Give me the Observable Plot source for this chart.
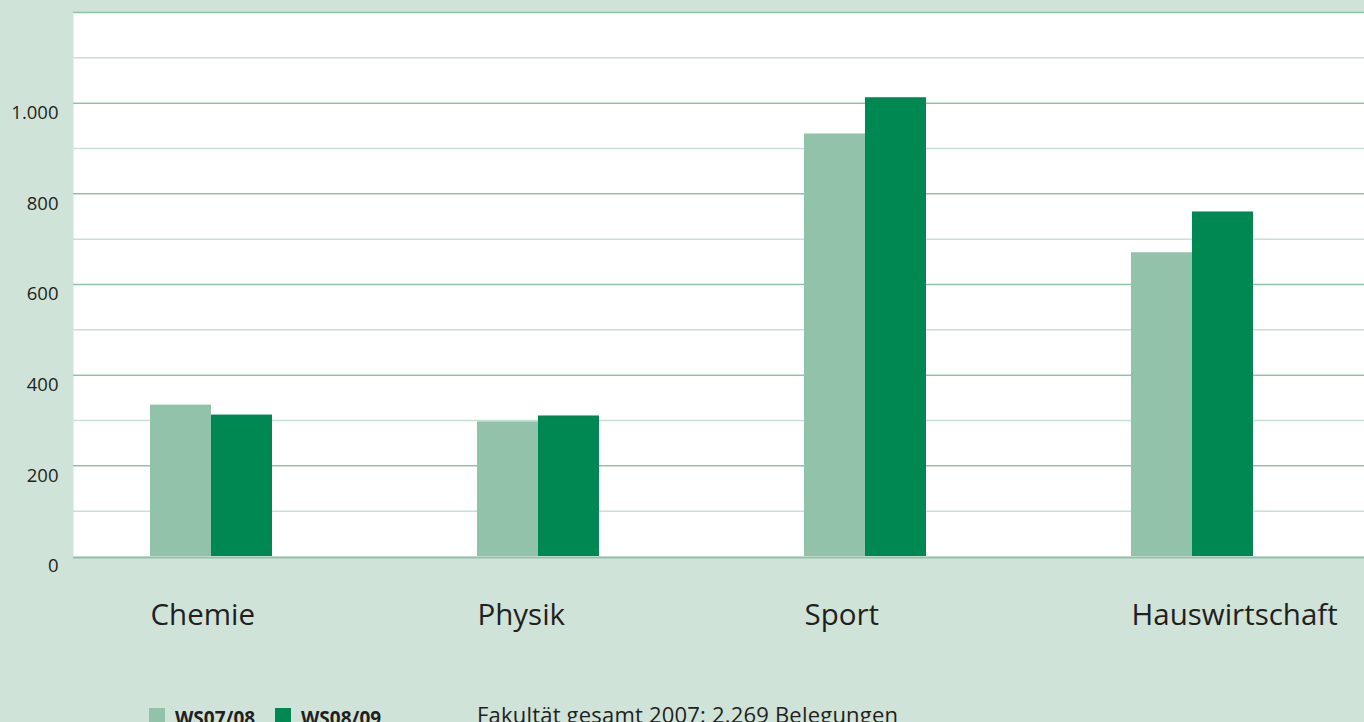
<!DOCTYPE html>
<html>
<head>
<meta charset="utf-8">
<script src="https://cdn.jsdelivr.net/npm/d3@7"></script>
<script src="https://cdn.jsdelivr.net/npm/@observablehq/plot@0.6"></script>
<style>
  html, body { margin: 0; padding: 0; background: #d0e3d9; }
  body { width: 1364px; height: 722px; overflow: hidden; font-family: "Open Sans", "Noto Sans", sans-serif; color: #231f20; }
  #chart svg { display: block; }
  .legend { position: relative; height: 22px; padding-top: 3px; font-size: 20px; line-height: 26px; }
  .legend .item { position: absolute; top: 5px; display: flex; align-items: flex-start; font-weight: 700; font-size: 19px; }
  .legend .sw { width: 16px; height: 16px; margin-top: 3px; margin-right: 10px; }
  .legend .note { position: absolute; top: 1px; left: 477px; font-size: 22px; letter-spacing: 0.2px; }
</style>
</head>
<body>
<div id="chart"></div>
<div class="legend" id="legend"></div>
<script>
const categories = ["Chemie", "Physik", "Sport", "Hauswirtschaft"];
const seriesNames = ["WS07/08", "WS08/09"];
const ws0708 = [334, 297, 932, 670];
const ws0809 = [312, 310, 1012, 760];
const colors = ["#93c2aa", "#008852"];
const minorTicks = [100, 300, 500, 700, 900, 1100];
const majorTicks = [200, 400, 600, 800, 1000, 1200];
const yLabelTicks = [0, 200, 400, 600, 800, 1000];
const note = "Fakultät gesamt 2007: 2.269 Belegungen";

const de = d3.formatLocale({decimal: ",", thousands: ".", grouping: [3], currency: ["", " €"]});
const fmt = de.format(",d");

const d07 = categories.map((c, i) => ({cat: c, v: ws0708[i]}));
const d08 = categories.map((c, i) => ({cat: c, v: ws0809[i]}));

const half = 61;
const chart = Plot.plot({
  width: 1364,
  height: 700,
  marginLeft: 73,
  marginRight: 0,
  marginTop: 12,
  marginBottom: 144,
  style: {fontFamily: "'Open Sans', 'Noto Sans', sans-serif", color: "#231f20", background: "#d0e3d9"},
  x: {domain: categories, range: [46.2, 1357.1], paddingInner: 0.628, paddingOuter: 0.314, axis: null},
  y: {domain: [0, 1200], axis: null},
  marks: [
    Plot.frame({fill: "white", stroke: null}),
    Plot.ruleY(minorTicks, {stroke: "#c8e0d3", strokeWidth: 1.5}),
    Plot.ruleY(majorTicks, {stroke: "#8fc3a8", strokeWidth: 1.5}),
    Plot.ruleY([0], {stroke: "#93c2aa", strokeWidth: 2, dy: 1}),
    Plot.barY(d07, {x: "cat", y: "v", fill: colors[0], insetRight: half}),
    Plot.barY(d08, {x: "cat", y: "v", fill: colors[1], insetLeft: half}),
    Plot.axisY({ticks: yLabelTicks, tickFormat: fmt, tickSize: 0, tickPadding: 15, fontSize: 18.5, dy: 10, label: null}),
    Plot.axisX({tickSize: 0, tickPadding: 48, fontSize: 29.5, textAnchor: "start", dx: -half, label: null})
  ]
});
document.getElementById("chart").appendChild(chart);

const legend = document.getElementById("legend");
const lefts = [149, 275];
seriesNames.forEach((s, i) => {
  const it = document.createElement("div");
  it.className = "item";
  it.style.left = lefts[i] + "px";
  const sw = document.createElement("div");
  sw.className = "sw";
  sw.style.background = colors[i];
  it.appendChild(sw);
  const t = document.createElement("span");
  t.textContent = s;
  it.appendChild(t);
  legend.appendChild(it);
});
const n = document.createElement("div");
n.className = "note";
n.textContent = note;
legend.appendChild(n);
</script>
</body>
</html>
